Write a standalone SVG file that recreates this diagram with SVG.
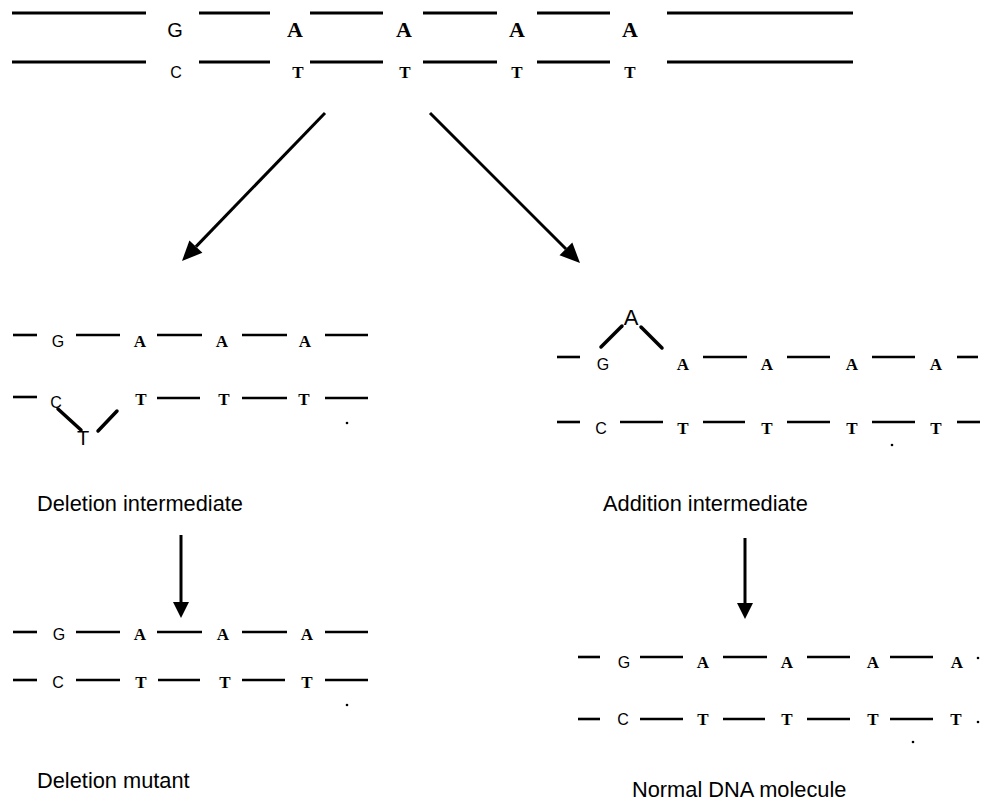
<svg xmlns="http://www.w3.org/2000/svg" width="989" height="801" viewBox="0 0 989 801">
<style>
.s{stroke:#000;stroke-width:3;stroke-linecap:butt;fill:none}
.m{stroke:#000;stroke-width:2.6;stroke-linecap:butt;fill:none}
.k{stroke:#000;stroke-width:3.5;stroke-linecap:round;fill:none}
.mono{font-family:"Liberation Serif","Times New Roman",serif;font-weight:bold;text-anchor:middle;fill:#000}
.sans{font-family:"Liberation Sans",Arial,sans-serif;text-anchor:middle;fill:#000}
.lab{font-family:"Liberation Sans",Arial,sans-serif;font-size:21.8px;fill:#000}
.big{font-size:22px}
.bt{font-size:17px}
.md{font-size:17px}
.ms{font-size:16px}
</style>
<rect width="989" height="801" fill="#fff"/>

<g id="original">
  <g class="s">
    <line x1="12" y1="13" x2="146" y2="13"/>
    <line x1="199" y1="13" x2="270" y2="13"/>
    <line x1="310" y1="13" x2="383" y2="13"/>
    <line x1="423" y1="13" x2="497" y2="13"/>
    <line x1="537" y1="13" x2="610" y2="13"/>
    <line x1="667" y1="13" x2="853" y2="13"/>
    <line x1="12" y1="62" x2="146" y2="62"/>
    <line x1="199" y1="62" x2="270" y2="62"/>
    <line x1="310" y1="62" x2="383" y2="62"/>
    <line x1="423" y1="62" x2="497" y2="62"/>
    <line x1="537" y1="62" x2="610" y2="62"/>
    <line x1="667" y1="62" x2="853" y2="62"/>
  </g>
  <text class="sans" x="175" y="37" font-size="20">G</text>
  <text class="mono big" x="295" y="37">A</text>
  <text class="mono big" x="404" y="37">A</text>
  <text class="mono big" x="517" y="37">A</text>
  <text class="mono big" x="630" y="37">A</text>
  <text class="sans" x="176" y="78" font-size="16">C</text>
  <text class="mono bt" x="298" y="78">T</text>
  <text class="mono bt" x="405" y="78">T</text>
  <text class="mono bt" x="517" y="78">T</text>
  <text class="mono bt" x="630" y="78">T</text>
</g>

<g id="deletion-intermediate">
  <g class="m">
    <line x1="13" y1="335" x2="37" y2="335"/>
    <line x1="76" y1="335" x2="120" y2="335"/>
    <line x1="157" y1="335" x2="202" y2="335"/>
    <line x1="242" y1="335" x2="287" y2="335"/>
    <line x1="325" y1="335" x2="368" y2="335"/>
    <line x1="13" y1="397" x2="37" y2="397"/>
    <line x1="157" y1="398" x2="200" y2="398"/>
    <line x1="242" y1="398" x2="287" y2="398"/>
    <line x1="325" y1="398" x2="368" y2="398"/>
  </g>
  <g class="k">
    <line x1="58" y1="409" x2="81" y2="430"/>
    <line x1="98" y1="431" x2="117" y2="411"/>
  </g>
  <circle cx="347" cy="423" r="1.3" fill="#000"/>
  <text class="sans ms" x="58" y="347">G</text>
  <text class="mono md" x="140" y="347">A</text>
  <text class="mono md" x="222" y="347">A</text>
  <text class="mono md" x="305" y="347">A</text>
  <text class="sans ms" x="56" y="408">C</text>
  <text class="sans" x="83" y="445" font-size="20">T</text>
  <text class="mono md" x="141" y="405">T</text>
  <text class="mono md" x="224" y="405">T</text>
  <text class="mono md" x="304" y="405">T</text>
  <text class="lab" x="37" y="511">Deletion intermediate</text>
</g>

<g id="addition-intermediate">
  <g class="m">
    <line x1="557" y1="357" x2="580" y2="357"/>
    <line x1="703" y1="357" x2="747" y2="357"/>
    <line x1="787" y1="357" x2="830" y2="357"/>
    <line x1="872" y1="357" x2="915" y2="357"/>
    <line x1="957" y1="357" x2="978" y2="357"/>
    <line x1="557" y1="422" x2="580" y2="422"/>
    <line x1="620" y1="422" x2="663" y2="422"/>
    <line x1="703" y1="422" x2="745" y2="422"/>
    <line x1="787" y1="422" x2="830" y2="422"/>
    <line x1="872" y1="422" x2="915" y2="422"/>
    <line x1="957" y1="422" x2="980" y2="422"/>
  </g>
  <g class="k">
    <line x1="601" y1="347" x2="622" y2="326"/>
    <line x1="641" y1="327" x2="662" y2="348"/>
  </g>
  <circle cx="892" cy="445" r="1.3" fill="#000"/>
  <text class="sans" x="631" y="325" font-size="22">A</text>
  <text class="sans ms" x="603" y="370">G</text>
  <text class="mono md" x="683" y="370">A</text>
  <text class="mono md" x="767" y="370">A</text>
  <text class="mono md" x="852" y="370">A</text>
  <text class="mono md" x="936" y="370">A</text>
  <text class="sans ms" x="601" y="434">C</text>
  <text class="mono md" x="683" y="434">T</text>
  <text class="mono md" x="767" y="434">T</text>
  <text class="mono md" x="852" y="434">T</text>
  <text class="mono md" x="936" y="434">T</text>
  <text class="lab" x="603" y="511">Addition intermediate</text>
</g>

<g id="deletion-mutant">
  <g class="m">
    <line x1="13" y1="632" x2="37" y2="632"/>
    <line x1="76" y1="632" x2="120" y2="632"/>
    <line x1="157" y1="632" x2="202" y2="632"/>
    <line x1="242" y1="632" x2="287" y2="632"/>
    <line x1="325" y1="632" x2="368" y2="632"/>
    <line x1="13" y1="680" x2="37" y2="680"/>
    <line x1="76" y1="680" x2="120" y2="680"/>
    <line x1="158" y1="680" x2="200" y2="680"/>
    <line x1="242" y1="680" x2="285" y2="680"/>
    <line x1="325" y1="680" x2="368" y2="680"/>
  </g>
  <circle cx="347" cy="705" r="1.3" fill="#000"/>
  <text class="sans ms" x="59" y="640">G</text>
  <text class="mono md" x="140" y="640">A</text>
  <text class="mono md" x="223" y="640">A</text>
  <text class="mono md" x="307" y="640">A</text>
  <text class="sans ms" x="58" y="688">C</text>
  <text class="mono md" x="141" y="688">T</text>
  <text class="mono md" x="225" y="688">T</text>
  <text class="mono md" x="307" y="688">T</text>
  <text class="lab" x="37" y="788">Deletion mutant</text>
</g>

<g id="normal-dna">
  <g class="m">
    <line x1="578" y1="657" x2="600" y2="657"/>
    <line x1="640" y1="657" x2="683" y2="657"/>
    <line x1="723" y1="657" x2="767" y2="657"/>
    <line x1="807" y1="657" x2="850" y2="657"/>
    <line x1="890" y1="657" x2="933" y2="657"/>
    <line x1="578" y1="719" x2="600" y2="719"/>
    <line x1="640" y1="719" x2="683" y2="719"/>
    <line x1="723" y1="719" x2="765" y2="719"/>
    <line x1="807" y1="719" x2="850" y2="719"/>
    <line x1="890" y1="719" x2="933" y2="719"/>
  </g>
  <circle cx="978" cy="658" r="1.3" fill="#000"/>
  <circle cx="978" cy="722" r="1.3" fill="#000"/>
  <circle cx="913" cy="742" r="1.3" fill="#000"/>
  <text class="sans ms" x="624" y="668">G</text>
  <text class="mono md" x="703" y="668">A</text>
  <text class="mono md" x="787" y="668">A</text>
  <text class="mono md" x="873" y="668">A</text>
  <text class="mono md" x="957" y="668">A</text>
  <text class="sans ms" x="623" y="725">C</text>
  <text class="mono md" x="703" y="725">T</text>
  <text class="mono md" x="787" y="725">T</text>
  <text class="mono md" x="873" y="725">T</text>
  <text class="mono md" x="956" y="725">T</text>
  <text class="lab" x="632" y="797">Normal DNA molecule</text>
</g>

<g id="connectors">
  <g class="s" stroke-width="3.2">
    <line x1="325" y1="113" x2="196" y2="246.6"/>
    <line x1="430" y1="113" x2="566" y2="249"/>
    <line x1="181" y1="535" x2="181" y2="603"/>
    <line x1="745" y1="538" x2="745" y2="604"/>
  </g>
  <g fill="#000">
    <polygon points="182,261 202.4,252.8 189.4,240.4"/>
    <polygon points="580,263 559.5,255.3 572.3,242.5"/>
    <polygon points="173,602 189,602 181,618"/>
    <polygon points="737,603 753,603 745,619"/>
  </g>
</g>
</svg>
